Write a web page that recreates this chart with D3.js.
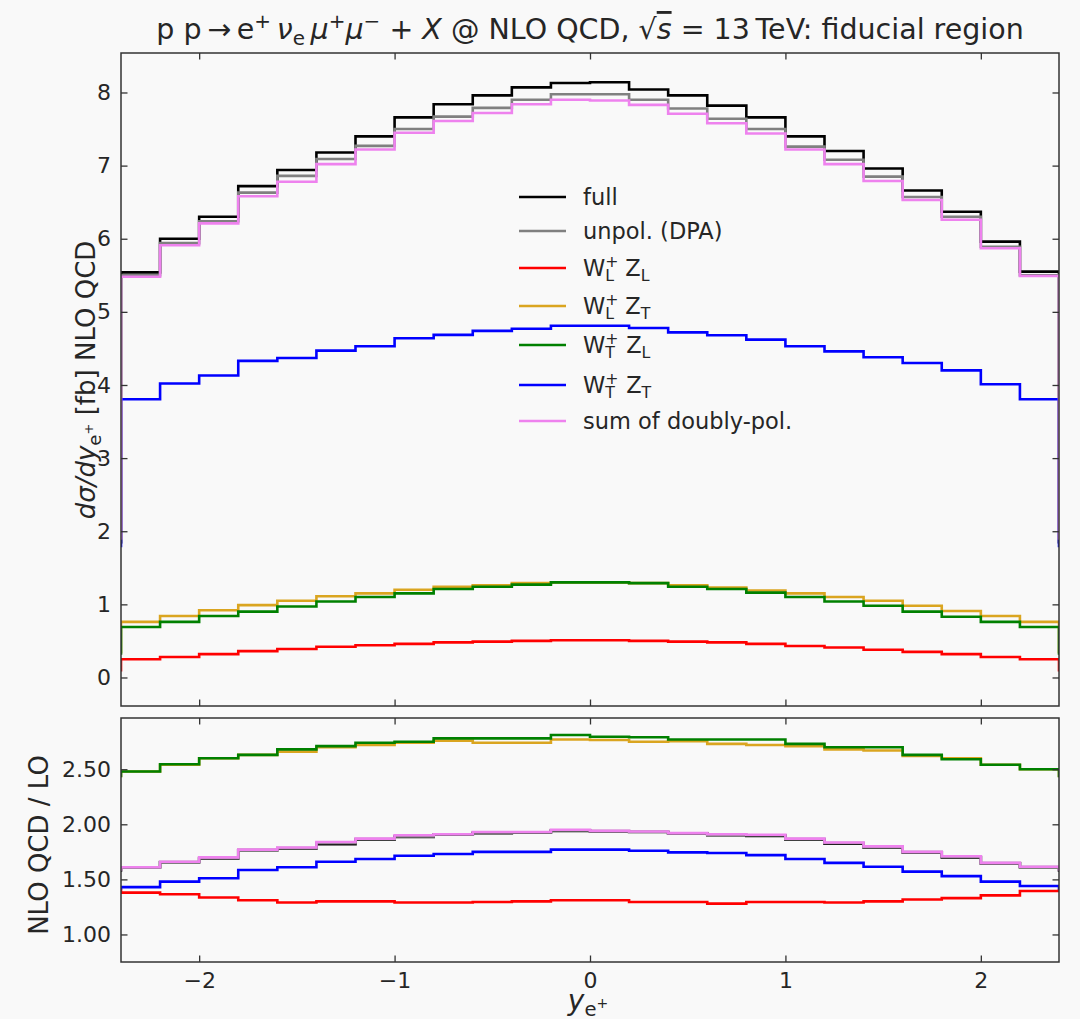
<!DOCTYPE html>
<html><head><meta charset="utf-8">
<script src="https://cdn.jsdelivr.net/npm/d3@7"></script>
<style>
body{margin:0;background:#f9f9f9;}
text{font-family:"DejaVu Sans",sans-serif;fill:#262626;}
</style>
</head><body>
<svg id="c" width="1080" height="1019"></svg>
<script>
// ---------- data ----------
// bin edges in y_e+ (first and last bins are the partially filled outer bins)
const binEdges = [-2.6,-2.4,-2.2,-2.0,-1.8,-1.6,-1.4,-1.2,-1.0,-0.8,-0.6,-0.4,-0.2,0.0,0.2,0.4,0.6,0.8,1.0,1.2,1.4,1.6,1.8,2.0,2.2,2.4,2.6];
const xTicks = [-2,-1,0,1,2];
const yTicksTop = [0,1,2,3,4,5,6,7,8];
const yTicksBot = [1.0,1.5,2.0,2.5];

// top panel: d sigma / d y  [fb]
const full    = [1.85,5.54,6.00,6.30,6.72,6.94,7.18,7.40,7.66,7.84,7.96,8.07,8.13,8.14,8.04,7.96,7.82,7.66,7.40,7.20,6.96,6.66,6.37,5.96,5.55,1.85];
const unpol   = [1.85,5.50,5.94,6.24,6.63,6.86,7.09,7.27,7.50,7.67,7.79,7.90,7.975,7.975,7.90,7.78,7.64,7.50,7.26,7.08,6.85,6.57,6.30,5.89,5.50,1.85];
const wlzl    = [0.10,0.25,0.28,0.32,0.36,0.39,0.42,0.44,0.46,0.48,0.49,0.50,0.51,0.51,0.50,0.49,0.48,0.46,0.43,0.41,0.38,0.35,0.32,0.28,0.25,0.10];
const wlzt    = [0.35,0.76,0.84,0.92,0.99,1.05,1.11,1.15,1.20,1.24,1.26,1.29,1.30,1.30,1.29,1.26,1.23,1.19,1.15,1.10,1.05,0.98,0.91,0.84,0.76,0.35];
const wtzl    = [0.33,0.69,0.76,0.84,0.90,0.97,1.04,1.10,1.15,1.21,1.24,1.27,1.30,1.30,1.29,1.24,1.21,1.16,1.10,1.04,0.98,0.90,0.83,0.76,0.69,0.33];
const wtzt    = [1.80,3.805,4.02,4.13,4.33,4.37,4.47,4.53,4.64,4.685,4.74,4.77,4.81,4.81,4.78,4.72,4.68,4.62,4.53,4.46,4.38,4.30,4.20,4.01,3.805,1.80];
const sumPol  = [1.90,5.48,5.91,6.21,6.58,6.78,7.02,7.22,7.45,7.61,7.72,7.84,7.90,7.89,7.83,7.71,7.58,7.44,7.22,7.02,6.79,6.53,6.26,5.87,5.49,1.90];

// bottom panel: NLO QCD / LO
const fullR   = [1.58,1.61,1.655,1.69,1.765,1.78,1.82,1.86,1.885,1.905,1.92,1.925,1.94,1.935,1.93,1.915,1.90,1.895,1.86,1.825,1.79,1.745,1.70,1.645,1.61,1.58];
const unpolR  = [1.59,1.61,1.658,1.695,1.768,1.785,1.83,1.865,1.89,1.908,1.925,1.928,1.945,1.938,1.932,1.918,1.905,1.90,1.865,1.83,1.795,1.748,1.705,1.648,1.612,1.59];
const wlzlR   = [1.40,1.38,1.365,1.335,1.31,1.29,1.30,1.30,1.29,1.29,1.295,1.30,1.31,1.31,1.295,1.295,1.28,1.295,1.295,1.29,1.30,1.317,1.33,1.355,1.395,1.40];
const wlztR   = [2.44,2.48,2.54,2.60,2.63,2.66,2.70,2.72,2.74,2.76,2.74,2.74,2.77,2.765,2.75,2.755,2.73,2.72,2.71,2.68,2.67,2.62,2.60,2.54,2.50,2.44];
const wtzlR   = [2.44,2.48,2.545,2.60,2.63,2.68,2.71,2.74,2.75,2.78,2.78,2.78,2.81,2.795,2.79,2.77,2.77,2.77,2.73,2.70,2.70,2.63,2.59,2.54,2.50,2.44];
const wtztR   = [1.42,1.43,1.48,1.51,1.585,1.61,1.66,1.685,1.715,1.73,1.75,1.75,1.77,1.77,1.76,1.745,1.74,1.72,1.685,1.65,1.615,1.57,1.53,1.48,1.44,1.42];
const sumPolR = [1.59,1.61,1.66,1.70,1.77,1.79,1.84,1.87,1.90,1.91,1.93,1.93,1.95,1.94,1.935,1.92,1.91,1.905,1.87,1.835,1.80,1.75,1.71,1.65,1.615,1.59];

const seriesNames  = ["full","unpol","wlzl","wlzt","wtzl","wtzt","sum"];
const seriesColors = ["#000000","#808080","#ff0000","#daa520","#008000","#0000ff","#ee82ee"];
const topSeries = [full,unpol,wlzl,wlzt,wtzl,wtzt,sumPol];
const botSeries = [fullR,unpolR,wlzlR,wlztR,wtzlR,wtztR,sumPolR];

// ---------- layout ----------
const svg = d3.select("#c");
const L = 121, R = 1059;
const topP = {t:53, b:706};
const botP = {t:718, b:962};
const x = d3.scaleLinear().domain([-2.4,2.4]).range([L,R]);
const yT = d3.scaleLinear().domain([-0.39,8.54]).range([topP.b,topP.t]);
const yB = d3.scaleLinear().domain([0.75,2.965]).range([botP.b,botP.t]);

const defs = svg.append("defs");
defs.append("clipPath").attr("id","clipT").append("rect").attr("x",L).attr("y",topP.t).attr("width",R-L).attr("height",topP.b-topP.t);
defs.append("clipPath").attr("id","clipB").append("rect").attr("x",L).attr("y",botP.t).attr("width",R-L).attr("height",botP.b-botP.t);

function stepPoints(vals){
  const pts=[];
  vals.forEach((v,i)=>{pts.push([binEdges[i],v]);pts.push([binEdges[i+1],v]);});
  return pts;
}
function drawSeries(clip, yScale, data){
  const g = svg.append("g").attr("clip-path",`url(#${clip})`);
  const line = d3.line().x(d=>x(d[0])).y(d=>yScale(d[1]));
  data.forEach((vals,i)=>{
    g.append("path").attr("d",line(stepPoints(vals)))
     .attr("fill","none").attr("stroke",seriesColors[i]).attr("stroke-width",2.6)
     .attr("stroke-linejoin","miter");
  });
}
drawSeries("clipT", yT, topSeries);
drawSeries("clipB", yB, botSeries);

// axes (ticks inward on all four sides)
const TK = 6.5;
const TFS = 22;
function axes(yScale, p, yticks, yfmt, showX){
  svg.append("g").attr("transform",`translate(0,${p.b})`)
    .call(d3.axisBottom(x).tickValues(xTicks).tickSize(-TK).tickPadding(10).tickFormat(showX?d3.format("d"):""));
  svg.append("g").attr("transform",`translate(0,${p.t})`)
    .call(d3.axisTop(x).tickValues(xTicks).tickSize(-TK).tickFormat(""));
  svg.append("g").attr("transform",`translate(${L},0)`)
    .call(d3.axisLeft(yScale).tickValues(yticks).tickSize(-TK).tickPadding(10).tickFormat(yfmt));
  svg.append("g").attr("transform",`translate(${R},0)`)
    .call(d3.axisRight(yScale).tickValues(yticks).tickSize(-TK).tickFormat(""));
  svg.append("rect").attr("x",L).attr("y",p.t).attr("width",R-L).attr("height",p.b-p.t)
    .attr("fill","none").attr("stroke","#333").attr("stroke-width",1.5);
}
axes(yT, topP, yTicksTop, d3.format("d"), false);
axes(yB, botP, yTicksBot, d3.format(".2f"), true);
svg.selectAll(".domain").remove();
svg.selectAll(".tick line").attr("stroke","#333").attr("stroke-width",1.3);
svg.selectAll(".tick text").attr("font-size",TFS).attr("fill","#262626").style("font-family","DejaVu Sans");

// ---------- rich text helper ----------
// sup: superscript, sub: subscript, subsup: superscript attached to a subscript
function rich(sel, parts, size){
  let shift = 0;
  let prev = null;
  parts.forEach(p=>{
    const fs = p.subsup ? size*0.5 : ((p.sup||p.sub)? size*0.7 : size);
    const target = p.sup ? -size*0.38 : (p.sub ? size*0.22 : (p.subsup ? -size*0.08 : 0));
    const ts = sel.append("tspan").text(p.t).attr("font-size",fs).attr("dy",target-shift);
    if(p.it) ts.attr("font-style","italic");
    if(p.over) ts.style("text-decoration","overline");
    if(p.back && prev){ ts.attr("dx",-prev.node().getComputedTextLength()); }
    shift = target;
    prev = ts;
  });
}

// title
const TS = 28.5;
const title = svg.append("text").attr("x",590).attr("y",39).attr("text-anchor","middle").attr("font-size",TS);
rich(title,[
  {t:"p p\u2009\u2192\u2009e"},{t:"+",sup:true},{t:"\u2009"},{t:"\u03bd",it:true},{t:"e",sub:true},{t:"\u2009"},
  {t:"\u03bc",it:true},{t:"+",sup:true},{t:"\u03bc",it:true},{t:"\u2212",sup:true},{t:" + "},{t:"X",it:true},
  {t:" @ NLO QCD, \u221a"},{t:"s",it:true,over:true},{t:" = 13\u2009TeV: fiducial region"}
],TS);

// y labels
const YS = 26;
const yl1 = svg.append("text").attr("transform","translate(95,380) rotate(-90)").attr("text-anchor","middle").attr("font-size",YS);
rich(yl1,[{t:"d\u03c3/dy",it:true},{t:"e",sub:true},{t:"+",subsup:true},{t:" [fb] NLO QCD"}],YS);
const yl2 = svg.append("text").attr("transform","translate(48,845) rotate(-90)").attr("text-anchor","middle").attr("font-size",YS);
rich(yl2,[{t:"NLO QCD / LO"}],YS);

// x label
const XS = 28;
const xl = svg.append("text").attr("x",588).attr("y",1010).attr("text-anchor","middle").attr("font-size",XS);
rich(xl,[{t:"y",it:true},{t:"e",sub:true},{t:"+",subsup:true}],XS);

// ---------- legend ----------
const legendLabels = [
  [{t:"full"}],
  [{t:"unpol. (DPA)"}],
  [{t:"W"},{t:"+",sup:true},{t:"L",sub:true,back:true},{t:"\u2002Z"},{t:"L",sub:true}],
  [{t:"W"},{t:"+",sup:true},{t:"L",sub:true,back:true},{t:"\u2002Z"},{t:"T",sub:true}],
  [{t:"W"},{t:"+",sup:true},{t:"T",sub:true,back:true},{t:"\u2002Z"},{t:"L",sub:true}],
  [{t:"W"},{t:"+",sup:true},{t:"T",sub:true,back:true},{t:"\u2002Z"},{t:"T",sub:true}],
  [{t:"sum of doubly-pol."}]
];
const legendRowsY = [197,231,268,306,345,385,421];
const LS = 22.5;
legendLabels.forEach((lab,i)=>{
  const yy = legendRowsY[i];
  svg.append("line").attr("x1",519).attr("x2",566).attr("y1",yy).attr("y2",yy)
     .attr("stroke",seriesColors[i]).attr("stroke-width",2.6);
  const t = svg.append("text").attr("x",583).attr("y",yy+8).attr("font-size",LS);
  rich(t,lab,LS);
});
</script>
</body></html>
